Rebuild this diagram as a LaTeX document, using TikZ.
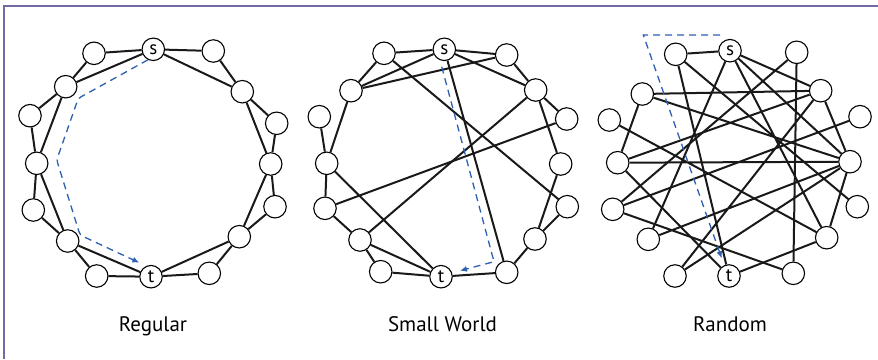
\documentclass[tikz,border=0pt]{standalone}
\usepackage{fontspec}
\setmainfont{PT Sans}
\usepackage{tikz}
\usetikzlibrary{arrows.meta}

\definecolor{framepurple}{RGB}{118,104,163}
\definecolor{routeblue}{RGB}{45,95,175}

\tikzset{
  vtx/.style={circle,draw=black,line width=1.1pt,fill=white,minimum size=22.5pt,inner sep=0pt,font=\fontsize{19}{19}\selectfont},
  link/.style={line width=2pt,black!90},
  route/.style={draw=routeblue,line width=1.3pt,dash pattern=on 7pt off 5pt,-{Latex[length=7pt,width=6pt]}},
  caption/.style={font=\fontsize{21}{24}\selectfont,anchor=base},
  frame/.style={draw=framepurple,line width=1.6pt}
}

\begin{document}
\begin{tikzpicture}[x=1pt,y=-1pt,>=Latex]
\useasboundingbox (0,0) rectangle (878,359);
\draw[frame] (4,359) -- (4,6) -- (878,6);

% regular
\node[vtx] (r0) at (153.3,49.3) {s};
\node[vtx] (r1) at (94,53.3) {};
\node[vtx] (r2) at (65.7,86.7) {};
\node[vtx] (r3) at (30,115.7) {};
\node[vtx] (r4) at (36.7,163.3) {};
\node[vtx] (r5) at (33.3,210) {};
\node[vtx] (r6) at (67.7,241) {};
\node[vtx] (r7) at (96.7,276) {};
\node[vtx] (r8) at (151,276.7) {t};
\node[vtx] (r9) at (209.3,273.3) {};
\node[vtx] (r10) at (239.3,236.7) {};
\node[vtx] (r11) at (275,206.7) {};
\node[vtx] (r12) at (270.7,164) {};
\node[vtx] (r13) at (276.7,123.3) {};
\node[vtx] (r14) at (242.3,91.7) {};
\node[vtx] (r15) at (213.3,51) {};
\draw[link] (r0)--(r2) (r2)--(r4) (r4)--(r6) (r6)--(r8) (r8)--(r10) (r10)--(r12) (r12)--(r14) (r14)--(r0);
\draw[link] (r0)--(r1) (r1)--(r2) (r2)--(r3) (r3)--(r4) (r4)--(r5) (r5)--(r6) (r6)--(r7) (r7)--(r8);
\draw[link] (r8)--(r9) (r9)--(r10) (r10)--(r11) (r11)--(r12) (r12)--(r13) (r13)--(r14) (r14)--(r15) (r15)--(r0);
\coordinate (ra) at (78.3,98.3);
\coordinate (rb) at (56.7,160);
\coordinate (rc) at (80,235);
\coordinate (rd) at (139.3,262.7);
\draw[route,rounded corners=3pt] (r0.243) -- (ra) -- (rb) -- (rc) -- (rd);
\node[caption] (lreg) at (153,331) {Regular};

% small world
\node[vtx] (w0) at (444.3,49.3) {s};
\node[vtx] (w1) at (384,53.3) {};
\node[vtx] (w2) at (351,90.7) {};
\node[vtx] (w3) at (319.3,116.7) {};
\node[vtx] (w4) at (326.7,163.3) {};
\node[vtx] (w5) at (325,208.3) {};
\node[vtx] (w6) at (360,240) {};
\node[vtx] (w7) at (380.7,271.7) {};
\node[vtx] (w8) at (441,276.7) {t};
\node[vtx] (w9) at (506.7,272.3) {};
\node[vtx] (w10) at (535,239) {};
\node[vtx] (w11) at (567.3,206.7) {};
\node[vtx] (w12) at (560.7,164) {};
\node[vtx] (w13) at (566.7,119) {};
\node[vtx] (w14) at (535.7,90) {};
\node[vtx] (w15) at (506.7,55) {};
\draw[link] (w0)--(w1) (w0)--(w2) (w0)--(w15) (w0)--(w14) (w0)--(w9) (w1)--(w2) (w1)--(w11);
\draw[link] (w15)--(w14) (w15)--(w2) (w14)--(w13) (w14)--(w12) (w14)--(w6) (w3)--(w4) (w2)--(w4);
\draw[link] (w13)--(w5) (w12)--(w10) (w11)--(w10) (w4)--(w5) (w4)--(w8) (w5)--(w6);
\draw[link] (w6)--(w7) (w6)--(w8) (w7)--(w8) (w8)--(w9) (w10)--(w9);
\coordinate (wa) at (441.7,66.7);
\coordinate (wb) at (494,261.7);
\coordinate (wc) at (460,270.7);
\draw[route] (wa) -- (wb) -- (wc);
\node[caption] (lsw) at (442.5,331) {Small World};

% random
\node[vtx] (d0) at (730,50.7) {s};
\node[vtx] (d1) at (675.7,54.3) {};
\node[vtx] (d2) at (642.3,94) {};
\node[vtx] (d3) at (609.3,120) {};
\node[vtx] (d4) at (617.7,162.7) {};
\node[vtx] (d5) at (612.7,209.3) {};
\node[vtx] (d6) at (648.3,239.3) {};
\node[vtx] (d7) at (675,276) {};
\node[vtx] (d8) at (729,276) {t};
\node[vtx] (d9) at (793.3,273.3) {};
\node[vtx] (d10) at (826.7,237.7) {};
\node[vtx] (d11) at (857.3,206.7) {};
\node[vtx] (d12) at (850,161.7) {};
\node[vtx] (d13) at (860,116.7) {};
\node[vtx] (d14) at (820.7,90.7) {};
\node[vtx] (d15) at (796.7,52.3) {};
\draw[link] (d0)--(d1) (d0)--(d6) (d0)--(d14) (d0)--(d10) (d0)--(d12) (d1)--(d8) (d1)--(d11);
\draw[link] (d2)--(d14) (d2)--(d12) (d2)--(d4) (d3)--(d10) (d4)--(d12) (d4)--(d14) (d4)--(d8);
\draw[link] (d5)--(d15) (d5)--(d13) (d5)--(d9) (d15)--(d9) (d14)--(d7) (d12)--(d7) (d12)--(d6);
\draw[link] (d8)--(d10) (d12)--(d10) (d14)--(d12);
\coordinate (da) at (720,35);
\coordinate (db) at (643.3,35);
\coordinate (dc) at (721.7,258.3);
\draw[route] (da) -- (db) -- (dc);
\node[caption] (lrnd) at (730,331) {Random};
\end{tikzpicture}
\end{document}
